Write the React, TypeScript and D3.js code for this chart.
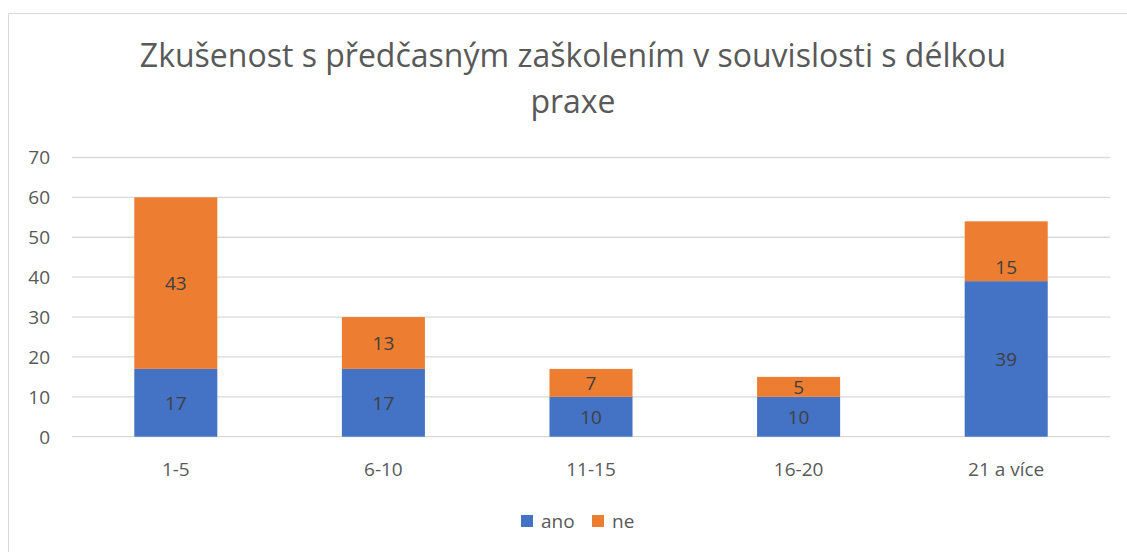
import React from "react";
import * as d3 from "d3";

const categories = ["1-5", "6-10", "11-15", "16-20", "21 a více"];
const ano = [17, 17, 10, 10, 39];
const ne = [43, 13, 7, 5, 15];
const seriesNames = ["ano", "ne"];
const yTicks = [0, 10, 20, 30, 40, 50, 60, 70];
const titleLines = ["Zkušenost s předčasným zaškolením v souvislosti s délkou", "praxe"];

const W = 1127;
const H = 552;
const colors = ["#4472C4", "#ED7D31"];
const FONT = "'Open Sans', sans-serif";
// label nudge (px) for the "ne" labels, as placed in the original
const neLabelNudge = [0, 0, 0, 0, 16];

export default function App() {
  const x = d3.scaleBand<string>().domain(categories).range([72, 1110]).paddingInner(0.6).paddingOuter(0.3);
  const y = d3.scaleLinear().domain([0, 70]).range([436.7, 157.5]);
  const rows = categories.map((c, i) => ({ cat: c, ano: ano[i], ne: ne[i] }));
  const stacked = d3.stack<any>().keys(seriesNames)(rows);

  return (
    <div style={{ position: "absolute", left: 0, top: 0, width: W, height: H, background: "#fff" }}>
      <svg width={W} height={H} style={{ display: "block", fontFamily: FONT }}>
        <rect x={8.5} y={13.5} width={1200} height={600} fill="#fff" stroke="#d9d9d9" strokeWidth={1} />
        {titleLines.map((t, i) => (
          <text key={i} x={573} y={66.5 + i * 46} textAnchor="middle" fontSize={32} fill="#595959">
            {t}
          </text>
        ))}
        {yTicks.map((t) => (
          <g key={t}>
            <line x1={72} x2={1110} y1={y(t)} y2={y(t)} stroke="#d9d9d9" strokeWidth={1.3} />
            <text x={50} y={y(t)} dy="0.36em" textAnchor="end" fontSize={19} fill="#595959">
              {t}
            </text>
          </g>
        ))}
        {stacked.map((s, si) => (
          <g key={s.key}>
            {s.map((d, i) => {
              const bx = x(categories[i])!;
              const y0 = y(d[0]);
              const y1 = y(d[1]);
              const nudge = si === 1 ? neLabelNudge[i] : 0;
              return (
                <g key={i}>
                  <rect x={bx} y={y1} width={x.bandwidth()} height={y0 - y1} fill={colors[si]} />
                  <text
                    x={bx + x.bandwidth() / 2}
                    y={(y0 + y1) / 2 + nudge}
                    dy="0.36em"
                    textAnchor="middle"
                    fontSize={19}
                    fill="#404040"
                  >
                    {d[1] - d[0]}
                  </text>
                </g>
              );
            })}
          </g>
        ))}
        {categories.map((c) => (
          <text key={c} x={x(c)! + x.bandwidth() / 2} y={476} textAnchor="middle" fontSize={19} fill="#595959">
            {c}
          </text>
        ))}
        {seriesNames.map((n, i) => {
          const lx = i === 0 ? 521 : 592;
          return (
            <g key={n}>
              <rect x={lx} y={515} width={12} height={12} fill={colors[i]} />
              <text x={lx + 20} y={528} fontSize={19} fill="#595959">
                {n}
              </text>
            </g>
          );
        })}
      </svg>
    </div>
  );
}
